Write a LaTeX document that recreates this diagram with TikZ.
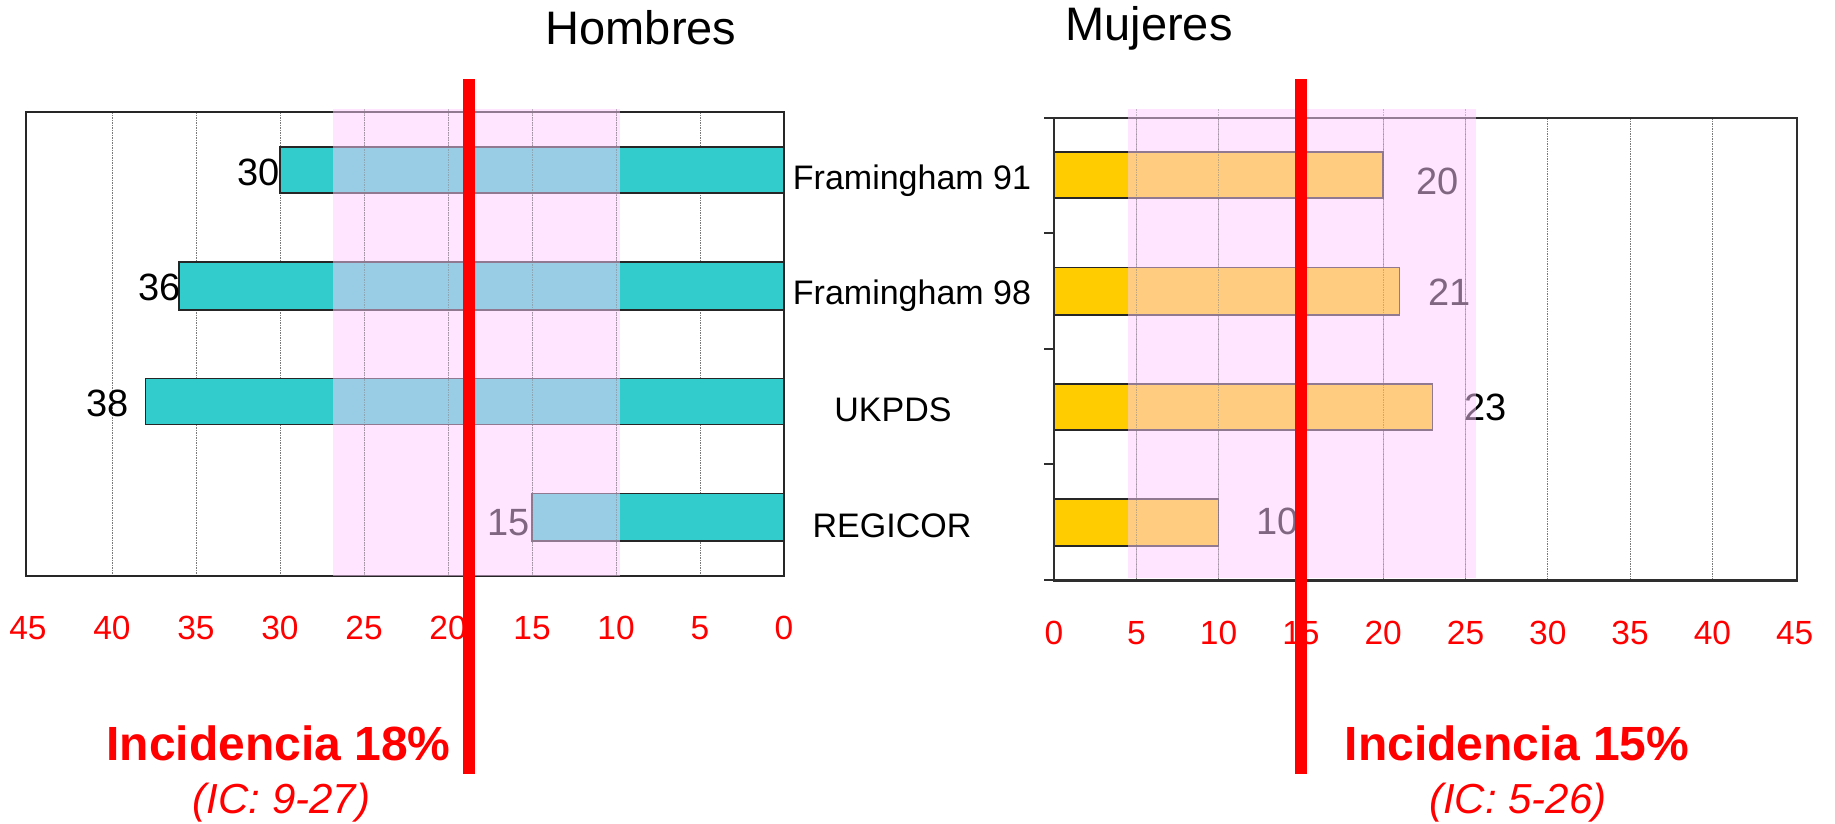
\documentclass[tikz,border=0pt]{standalone}
\usepackage{fontspec}
\setmainfont{Liberation Sans}
\definecolor{barteal}{HTML}{33CCCC}
\definecolor{baryellow}{HTML}{FFCC00}
\definecolor{bandpink}{HTML}{FFCCFF}
\definecolor{incred}{HTML}{FF0000}
\definecolor{gridgray}{HTML}{7A7A7A}
\begin{document}
\begin{tikzpicture}[x=1pt,y=-1pt,
  gridline/.style={draw=gridgray,line width=1pt,dash pattern=on 1.5pt off 1pt},
  framebox/.style={draw=black!85,line width=2pt},
  lbar/.style={fill=barteal,draw=black!85,line width=1.6pt},
  rbar/.style={fill=baryellow,draw=black!85,line width=1.6pt},
  band/.style={fill=bandpink,fill opacity=0.5},
  incline/.style={draw=incred,line width=12pt},
  vallab/.style={inner sep=0pt,font=\fontsize{38}{40}\selectfont},
  catlab/.style={inner sep=0pt,anchor=base,font=\fontsize{34}{36}\selectfont},
  ticklab/.style={inner sep=0pt,anchor=base,text=incred,font=\fontsize{33.5}{36}\selectfont},
  titlelab/.style={inner sep=0pt,anchor=base,font=\fontsize{47}{50}\selectfont},
  inclab/.style={inner sep=0pt,anchor=base,text=incred,font=\fontsize{48}{50}\selectfont\bfseries},
  iclab/.style={inner sep=0pt,anchor=base,text=incred,font=\fontsize{42}{44}\selectfont\itshape}
]
\useasboundingbox (0,0) rectangle (1835,823);
\fill[white] (0,0) rectangle (1835,823);

% ---------- left chart (Hombres) ----------
\foreach \v in {5,10,...,40}
  \draw[gridline] ({784-16.8*\v},112.3) -- ({784-16.8*\v},575.7);
\draw[lbar] ({784-16.8*30},146.7) rectangle (784,193);
\draw[lbar] ({784-16.8*36},261.7) rectangle (784,309.7);
\draw[lbar] ({784-16.8*38},378.3) rectangle (784,424.3);
\draw[lbar] ({784-16.8*15},493.3) rectangle (784,541);
\draw[framebox] (26,112.3) rectangle (784,575.7);
\node[vallab,anchor=east] (v30) at (280,172) {30};
\node[vallab,anchor=east] (v36) at (181,287) {36};
\node[vallab,anchor=east] (v38) at (129,403) {38};
\node[vallab,anchor=east] (v15) at (530,523) {15};

% ---------- right chart (Mujeres) ----------
\foreach \v in {5,10,...,40}
  \draw[gridline] ({1054+16.46*\v},118) -- ({1054+16.46*\v},580.3);
\draw[rbar] (1054,152) rectangle ({1054+16.46*20},198);
\draw[rbar] (1054,267.3) rectangle ({1054+16.46*21},315);
\draw[rbar] (1054,383.7) rectangle ({1054+16.46*23},430);
\draw[rbar] (1054,498.7) rectangle ({1054+16.46*10},546);
\draw[framebox,draw=black!82,line width=2.7pt] (1054,118) rectangle (1797,580.3);
\foreach \y in {118,232.7,348.7,464.3,580.3}
  \draw[black!82,line width=2.2pt] (1044,\y) -- (1054,\y);
\node[vallab,anchor=west] (v20) at (1416,181) {20};
\node[vallab,anchor=west] (v21) at (1428,292) {21};
\node[vallab,anchor=west] (v23) at (1464,407) {23};
\node[vallab,anchor=west] (v10) at (1256,521) {10};

% ---------- confidence bands ----------
\fill[band] (333,109.3) rectangle (620,575.7);
\fill[band] (1128,109) rectangle (1475.6,577.7);
\begin{scope}[draw opacity=0.45]
\foreach \v in {10,15,20,25}
  \draw[gridline] ({784-16.8*\v},109.3) -- ({784-16.8*\v},575.7);
\foreach \v in {5,10,20,25}
  \draw[gridline] ({1054+16.46*\v},109) -- ({1054+16.46*\v},577.7);
\end{scope}

% ---------- incidence lines ----------
\draw[incline] (469,79) -- (469,774);
\draw[incline] (1301,79) -- (1301,774);

% ---------- category labels ----------
\node[catlab] (c1) at (912,189.5) {Framingham 91};
\node[catlab] (c2) at (912,304.5) {Framingham 98};
\node[catlab] (c3) at (893,421.6) {UKPDS};
\node[catlab] (c4) at (892,537.5) {REGICOR};

% ---------- axis tick labels ----------
\foreach \v in {0,5,...,45}
  \node[ticklab] (lt\v) at ({784-16.8*\v},639) {\v};
\foreach \v in {0,5,...,45}
  \node[ticklab] (rt\v) at ({1054+16.46*\v},644) {\v};

% ---------- titles ----------
\node[titlelab] (hombres) at (641,44) {Hombres};
\node[titlelab] (mujeres) at (1149,40) {Mujeres};

% ---------- incidence texts ----------
\node[inclab] (inc18) at (278.5,760.7) {Incidencia 18\%};
\node[iclab] (ic1) at (281.5,813) {(IC: 9-27)};
\node[inclab] (inc15) at (1517,760.7) {Incidencia 15\%};
\node[iclab] (ic2) at (1518,813) {(IC: 5-26)};
\end{tikzpicture}
\end{document}
